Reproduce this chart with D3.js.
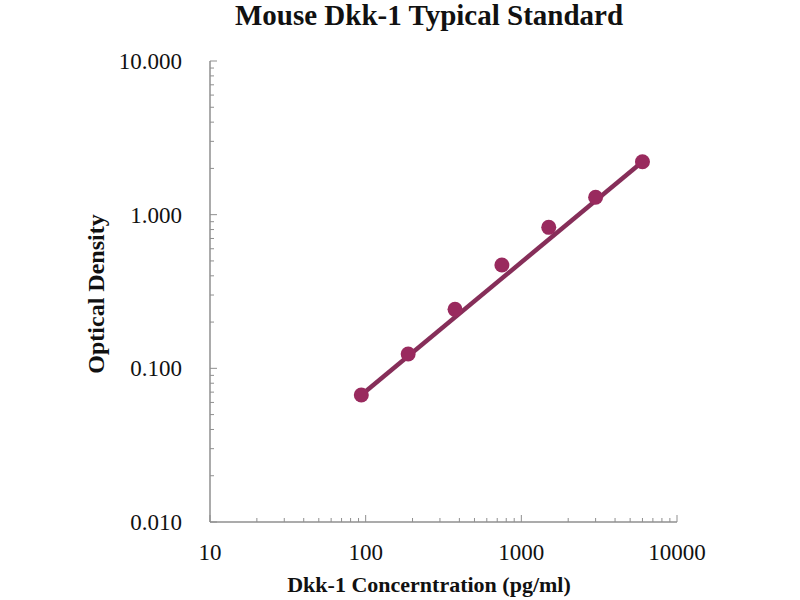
<!DOCTYPE html>
<html>
<head>
<meta charset="utf-8">
<script src="https://cdn.jsdelivr.net/npm/d3@7"></script>
<style>
  body { margin: 0; background: #fff; }
  text { font-family: "Liberation Serif", "Times New Roman", serif; fill: #111; }
</style>
</head>
<body>
<svg id="chart" width="800" height="600"></svg>
<script>
// Standard curve data
const concentration = [93.75, 187.5, 375, 750, 1500, 3000, 6000];
const opticalDensity = [0.067, 0.124, 0.242, 0.470, 0.827, 1.297, 2.21];
const xTickValues = [10, 100, 1000, 10000];
const yTickValues = [0.01, 0.1, 1, 10];

const titleText = "Mouse Dkk-1 Typical Standard";
const xLabel = "Dkk-1 Concerntration (pg/ml)";
const yLabel = "Optical Density";

const width = 800, height = 600;
const margin = {top: 61, right: 123, bottom: 78, left: 210};
const innerWidth = width - margin.left - margin.right;
const innerHeight = height - margin.top - margin.bottom;

const svg = d3.select("#chart");

const xScale = d3.scaleLog().domain([10, 10000]).range([0, innerWidth]);
const yScale = d3.scaleLog().domain([0.01, 10]).range([innerHeight, 0]);

const g = svg.append("g")
    .attr("transform", `translate(${margin.left}, ${margin.top})`);

// minor ticks (2..9 in every decade), drawn inside the plot
function minorTicks(scale) {
    const [lo, hi] = scale.domain();
    const out = [];
    for (let d = lo; d < hi; d *= 10) {
        for (let k = 2; k <= 9; k++) out.push(d * k);
    }
    return out;
}

const axisColor = "#8f8f8f";

// x axis
const xAxis = g.append("g").attr("transform", `translate(0, ${innerHeight})`);
xAxis.append("line")
    .attr("x1", 0).attr("x2", innerWidth)
    .attr("stroke", axisColor).attr("stroke-width", 1.5);
xAxis.selectAll(".xminor")
    .data(minorTicks(xScale))
    .enter().append("line")
    .attr("x1", d => xScale(d)).attr("x2", d => xScale(d))
    .attr("y1", 0).attr("y2", -4)
    .attr("stroke", axisColor);
xAxis.selectAll(".xmajor")
    .data(xTickValues)
    .enter().append("line")
    .attr("x1", d => xScale(d)).attr("x2", d => xScale(d))
    .attr("y1", 0).attr("y2", -7)
    .attr("stroke", axisColor);
xAxis.selectAll(".xlab")
    .data(xTickValues)
    .enter().append("text")
    .attr("x", d => xScale(d))
    .attr("y", 38)
    .attr("text-anchor", "middle")
    .attr("font-size", 23)
    .text(d => d);

// y axis
const yAxis = g.append("g");
yAxis.append("line")
    .attr("y1", 0).attr("y2", innerHeight)
    .attr("stroke", axisColor).attr("stroke-width", 1.5);
yAxis.selectAll(".yminor")
    .data(minorTicks(yScale))
    .enter().append("line")
    .attr("y1", d => yScale(d)).attr("y2", d => yScale(d))
    .attr("x1", 0).attr("x2", 4)
    .attr("stroke", axisColor);
yAxis.selectAll(".ymajor")
    .data(yTickValues)
    .enter().append("line")
    .attr("y1", d => yScale(d)).attr("y2", d => yScale(d))
    .attr("x1", 0).attr("x2", 7)
    .attr("stroke", axisColor);
yAxis.selectAll(".ylab")
    .data(yTickValues)
    .enter().append("text")
    .attr("x", -28)
    .attr("y", d => yScale(d))
    .attr("dy", "0.35em")
    .attr("text-anchor", "end")
    .attr("font-size", 23)
    .text(d => d3.format(".3f")(d));

// standard line joining the lowest and highest standards
const n = concentration.length;
const fitLine = [[concentration[0], opticalDensity[0]], [concentration[n - 1], opticalDensity[n - 1]]];

g.append("path")
    .datum(fitLine)
    .attr("fill", "none")
    .attr("stroke", "#862e59")
    .attr("stroke-width", 4.5)
    .attr("d", d3.line().x(d => xScale(d[0])).y(d => yScale(d[1])));

g.selectAll(".pt")
    .data(concentration)
    .enter().append("circle")
    .attr("cx", d => xScale(d))
    .attr("cy", (d, i) => yScale(opticalDensity[i]))
    .attr("r", 7.5)
    .attr("fill", "#992a5e");

// titles
svg.append("text")
    .attr("x", 429).attr("y", 25)
    .attr("text-anchor", "middle")
    .attr("font-size", 29)
    .attr("font-weight", "bold")
    .text(titleText);

svg.append("text")
    .attr("x", 429).attr("y", 592)
    .attr("text-anchor", "middle")
    .attr("font-size", 22)
    .attr("font-weight", "bold")
    .text(xLabel);

svg.append("text")
    .attr("transform", `translate(104, 294) rotate(-90)`)
    .attr("text-anchor", "middle")
    .attr("font-size", 24)
    .attr("font-weight", "bold")
    .text(yLabel);
</script>
</body>
</html>
